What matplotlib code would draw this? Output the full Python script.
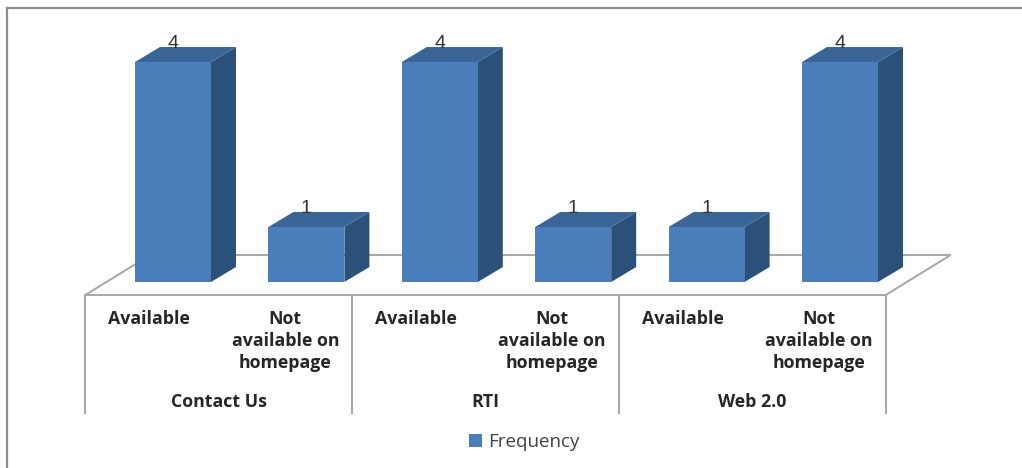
import matplotlib
matplotlib.use("Agg")
import matplotlib.pyplot as plt
from matplotlib.patches import Polygon, Rectangle
from matplotlib.lines import Line2D

# ---- data -------------------------------------------------------------
groups = ["Contact Us", "RTI", "Web 2.0"]
options = ["Available", "Not\navailable on\nhomepage"]
frequency = [4, 1, 4, 1, 1, 4]
series_name = "Frequency"

# ---- style ------------------------------------------------------------
FRONT = "#4A7EBB"
TOP = "#3A6597"
SIDE = "#2B5079"
GRID = "#A6A6A6"
TEXT = "#262626"
FONT = "Open Sans"

W, H, DPI = 1022, 468, 100
fig = plt.figure(figsize=(W / DPI, H / DPI), dpi=DPI)
ax = fig.add_axes([0, 0, 1, 1])
ax.set_axis_off()

# one category step = 133.4 px, one unit of value = 55 px
step_px, unit_px = 133.4, 55.0
x0_px, base_px = 173.0, 282.0
ax.set_xlim(-x0_px / step_px, (W - x0_px) / step_px)
ax.set_ylim(-(H - base_px) / unit_px, base_px / unit_px)

def px_dx(p):
    return p / step_px

def px_dy(p):
    return p / unit_px

bar_w = px_dx(76)
depth = (px_dx(25), px_dy(15))          # oblique depth of each bar
floor_front = (px_dx(-21), px_dy(-13))  # front edge of the floor
floor_back = (px_dx(44), px_dy(27))     # back edge of the floor

n = len(frequency)
lo, hi = -0.5, n - 0.5

# floor
fx0, fy0 = floor_front
bx0, by0 = floor_back
floor = Polygon([(lo + fx0, fy0), (hi + fx0, fy0), (hi + bx0, by0), (lo + bx0, by0)],
                closed=True, facecolor="white", edgecolor=GRID, lw=1.4, zorder=1)
ax.add_patch(floor)

# bars
dx, dy = depth
for i, v in enumerate(frequency):
    l, r = i - bar_w / 2, i + bar_w / 2
    side = Polygon([(r, 0), (r + dx, dy), (r + dx, v + dy), (r, v)],
                   closed=True, facecolor=SIDE, edgecolor="none", zorder=3)
    top = Polygon([(l, v), (r, v), (r + dx, v + dy), (l + dx, v + dy)],
                  closed=True, facecolor=TOP, edgecolor="none", zorder=3)
    front = Rectangle((l, 0), bar_w, v, facecolor=FRONT, edgecolor="none", zorder=4)
    for p in (side, top, front):
        ax.add_patch(p)
    ax.text(i, v + dy - px_dy(1), str(v), ha="center", va="baseline",
            fontsize=14, color="#333333", family="Liberation Sans", zorder=5)

# category axis (two levels)
line_top = fy0
line_bot = px_dy(-131)
per_group = len(options)
for g in range(len(groups) + 1):
    xb = lo + g * per_group + fx0
    ax.add_line(Line2D([xb, xb], [line_top, line_bot], color=GRID, lw=1.4, zorder=2))

label_y = px_dy(-28)
group_y = px_dy(-120)
for i in range(n):
    xoff = px_dx(-3) if i % per_group == 0 else 0.0
    ax.text(i + fx0 + xoff, label_y, options[i % per_group], ha="center", va="top",
            fontsize=12.8, fontweight="bold", color=TEXT, family=FONT,
            linespacing=1.3)
for g, name in enumerate(groups):
    xc = lo + (g + 0.5) * per_group + fx0
    ax.text(xc, group_y, name, ha="center", va="center",
            fontsize=12.8, fontweight="bold", color=TEXT, family=FONT)

# legend
leg = ax.legend(handles=[Rectangle((0, 0), 1, 1, facecolor=FRONT)],
                labels=[series_name], loc="center", frameon=False,
                bbox_to_anchor=(0.513, 1 - 442 / H), bbox_transform=fig.transFigure,
                prop={"family": FONT, "size": 13.5}, handlelength=0.7,
                handleheight=0.7, handletextpad=0.35)
for t in leg.get_texts():
    t.set_color("#404040")

# chart frame
frame_c = "#8C8C8C"
fig.add_artist(Line2D([7 / W, 1], [1 - 8 / H, 1 - 8 / H], transform=fig.transFigure,
                      color=frame_c, lw=1.6))
fig.add_artist(Line2D([7 / W, 7 / W], [0, 1 - 8 / H], transform=fig.transFigure,
                      color=frame_c, lw=1.6))

fig.savefig("out.png", dpi=DPI, facecolor="white")
